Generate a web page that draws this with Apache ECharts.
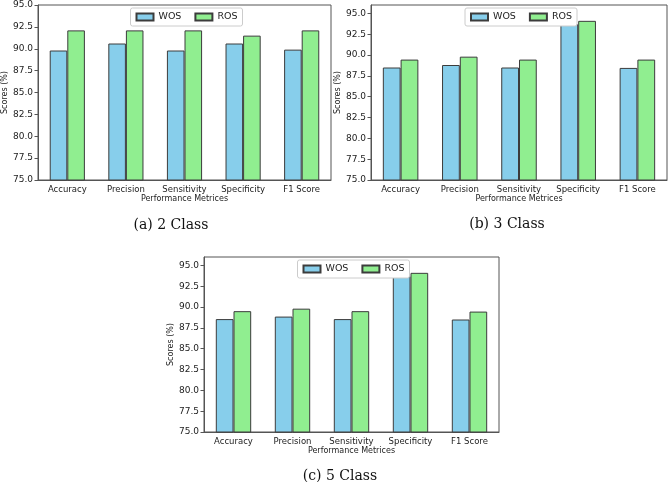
<!DOCTYPE html>
<html>
<head>
<meta charset="utf-8">
<script src="https://cdn.jsdelivr.net/npm/echarts@6/dist/echarts.min.js"></script>
<style>
html,body{margin:0;padding:0;background:#fff;}
#chart{width:669px;height:482px;}
</style>
</head>
<body>
<div id="chart"></div>
<script>
const categories = ['Accuracy', 'Precision', 'Sensitivity', 'Specificity', 'F1 Score'];
const yTicks = [75, 77.5, 80, 82.5, 85, 87.5, 90, 92.5, 95];
const seriesNames = ['WOS', 'ROS'];
const captions = ['(a) 2 Class', '(b) 3 Class', '(c) 5 Class'];
const yMax = [95, 96, 96];

const wos2 = [89.8, 90.6, 89.8, 90.6, 89.9];
const ros2 = [92.1, 92.1, 92.1, 91.5, 92.1];
const wos3 = [88.5, 88.8, 88.5, 93.7, 88.45];
const ros3 = [89.45, 89.8, 89.45, 94.1, 89.45];
const wos5 = [88.55, 88.85, 88.55, 93.7, 88.5];
const ros5 = [89.5, 89.8, 89.5, 94.1, 89.45];

const panelData = [[wos2, ros2], [wos3, ros3], [wos5, ros5]];

const grids = [
  {left: 38, top: 5, width: 293, height: 175},
  {left: 371, top: 5, width: 296, height: 175},
  {left: 204, top: 257, width: 295, height: 175}
];
const captionPos = [
  {x: 166, y: 213},
  {x: 502, y: 212},
  {x: 335, y: 464}
];

const colors = ['#87CEEB', '#90EE90'];
const edge = '#3c3c3c';
const frame = '#555';
const font = 'DejaVu Sans';

const option = {
  animation: false,
  textStyle: {fontFamily: font},
  title: captions.map((c, i) => ({
    text: c,
    left: captionPos[i].x,
    top: captionPos[i].y,
    textAlign: 'center',
    textStyle: {fontFamily: 'DejaVu Serif', fontSize: 14, fontWeight: 'normal', color: '#111'}
  })),
  legend: grids.map((g, i) => ({
    data: seriesNames,
    left: g.left + g.width / 2 - 54,
    top: g.top + 3,
    orient: 'horizontal',
    align: 'left',
    itemWidth: 17,
    itemHeight: 7,
    itemGap: 13,
    padding: [4, 5],
    borderColor: '#ccc',
    borderWidth: 1,
    borderRadius: 2,
    backgroundColor: '#fff',
    icon: 'rect',
    textStyle: {fontSize: 9.5, color: '#222', fontFamily: font}
  })),
  grid: grids.map(g => Object.assign({
    show: true, borderColor: frame, borderWidth: 1, backgroundColor: 'transparent', containLabel: false
  }, g)),
  xAxis: grids.map((g, i) => ({
    type: 'category',
    gridIndex: i,
    data: categories,
    boundaryGap: true,
    name: 'Performance Metrices',
    nameLocation: 'middle',
    nameGap: 14,
    nameTextStyle: {fontSize: 8, color: '#222', fontFamily: font},
    axisLine: {lineStyle: {color: frame, width: 1}},
    axisTick: {alignWithLabel: true, length: 3.5, lineStyle: {color: frame}},
    axisLabel: {fontSize: 8.5, color: '#222', margin: 5, interval: 0, fontFamily: font},
    splitLine: {show: false}
  })),
  yAxis: grids.map((g, i) => ({
    type: 'value',
    gridIndex: i,
    min: 75,
    max: yMax[i],
    interval: 2.5,
    name: 'Scores (%)',
    nameLocation: 'middle',
    nameGap: 23,
    nameTextStyle: {fontSize: 8, color: '#222', fontFamily: font},
    axisLine: {show: true, lineStyle: {color: frame, width: 1}},
    axisTick: {show: true, length: 3.5, lineStyle: {color: frame}, customValues: yTicks},
    axisLabel: {fontSize: 9, color: '#222', margin: 5, customValues: yTicks,
      formatter: v => Number(v).toFixed(1), fontFamily: font},
    splitLine: {show: false}
  })),
  series: []
};

panelData.forEach((pair, i) => {
  pair.forEach((vals, k) => {
    option.series.push({
      type: 'bar',
      name: seriesNames[k],
      xAxisIndex: i,
      yAxisIndex: i,
      data: vals,
      barWidth: '30%',
      barGap: '0%',
      itemStyle: {color: colors[k], borderColor: edge, borderWidth: 1}
    });
  });
});

const chart = echarts.init(document.getElementById('chart'), null, {renderer: 'canvas'});
chart.setOption(option);
</script>
</body>
</html>
